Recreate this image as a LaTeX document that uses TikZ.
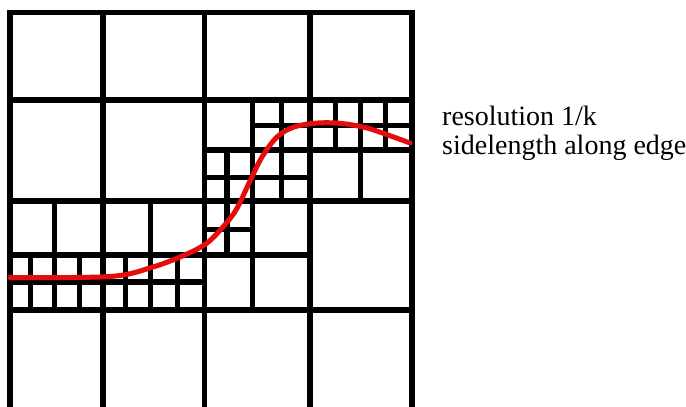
\documentclass[tikz,border=0pt]{standalone}
\usepackage{fontspec}
\setmainfont{Liberation Serif}
\definecolor{curvered}{RGB}{228,12,12}
\begin{document}
\begin{tikzpicture}[x=1pt,y=-1pt,
  gridline/.style={line width=5.5pt,line cap=rect,black},
  curveline/.style={line width=5pt,curvered,line cap=round},
  label/.style={anchor=base west,inner sep=0pt,font=\fontsize{28}{29}\selectfont}]
\useasboundingbox (0,0) rectangle (686,407);
\fill[white] (0,0) rectangle (686,407);
\begin{scope}
\clip (0,0) rectangle (686,407);
% big grid
\foreach \x in {10,103,204.5,310,412} \draw[gridline] (\x,12.5) -- (\x,411);
\foreach \y in {12.5,100,201,310,411} \draw[gridline] (10,\y) -- (412,\y);
% level 2 / 3 horizontals
\draw[gridline] (204.5,150) -- (412,150);
\draw[gridline] (252.5,125.5) -- (412,125.5);
\draw[gridline] (204.5,177.5) -- (310,177.5);
\draw[gridline] (204.5,229.5) -- (252.5,229.5);
\draw[gridline] (10,255) -- (310,255);
\draw[gridline] (10,282) -- (204.5,282);
% level 2 / 3 verticals
\draw[gridline] (252.5,100) -- (252.5,310);
\draw[gridline] (281.5,100) -- (281.5,201);
\draw[gridline] (227,150) -- (227,255);
\draw[gridline] (360.5,100) -- (360.5,201);
\draw[gridline] (335.5,100) -- (335.5,150);
\draw[gridline] (385.5,100) -- (385.5,150);
\draw[gridline] (54.5,201) -- (54.5,310);
\draw[gridline] (150.5,201) -- (150.5,310);
\foreach \x in {30.5,79.5,125.5,177.5} \draw[gridline] (\x,255) -- (\x,310);
% red curve
\draw[curveline] plot[smooth,tension=0.55] coordinates {
  (10,277.5) (110,276.5) (153,267) (187,254) (207,243) (222,228) (236,210)
  (250,181) (262,157) (277,137) (294,127) (318,123) (342,123.5) (367,128)
  (388,135) (410,143)};
\end{scope}
\node[label] (t1) at (442,125) {resolution 1/k};
\node[label] (t2) at (442,154) {sidelength along edge};
\end{tikzpicture}
\end{document}
